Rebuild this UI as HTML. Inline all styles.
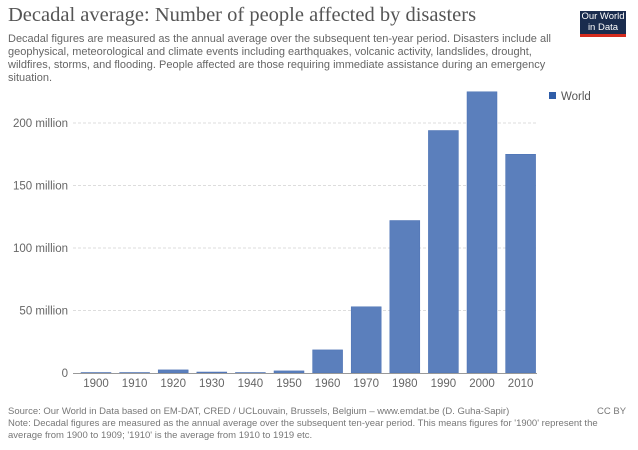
<!DOCTYPE html>
<html><head><meta charset="utf-8"><style>
body{margin:0;background:#fff;font-family:"Liberation Sans",sans-serif;}
#wrap{position:relative;width:638px;height:450px;overflow:hidden;}
h1{position:absolute;left:8px;top:4px;margin:0;font-family:"Liberation Serif",serif;font-weight:normal;font-size:20.5px;color:#555;}
.sub{position:absolute;left:8px;top:33px;width:560px;font-size:11px;line-height:13px;color:#666;}
.foot{position:absolute;left:8px;font-size:9.5px;color:#777;line-height:11.5px;}
#logo{position:absolute;left:580px;top:11px;width:46px;height:26px;background:#1a2c4e;border-bottom:3px solid #d42b1e;color:#fff;font-size:9.5px;line-height:10.5px;text-align:center;padding-top:1px;box-sizing:border-box;}
</style></head><body><div id="wrap">
<h1>Decadal average: Number of people affected by disasters</h1>
<div class="sub">Decadal figures are measured as the annual average over the subsequent ten-year period. Disasters include all geophysical, meteorological and climate events including earthquakes, volcanic activity, landslides, drought, wildfires, storms, and flooding. People affected are those requiring immediate assistance during an emergency situation.</div>
<div id="logo">Our World<br>in Data</div>
<svg id="chart" width="638" height="450" style="position:absolute;left:0;top:0"></svg>
<div class="foot" style="top:406px">Source: Our World in Data based on EM-DAT, CRED / UCLouvain, Brussels, Belgium – www.emdat.be (D. Guha-Sapir)</div>
<div class="foot" style="top:406px;left:597px">CC BY</div>
<div class="foot" style="top:418px;width:600px">Note: Decadal figures are measured as the annual average over the subsequent ten-year period. This means figures for '1900' represent the average from 1900 to 1909; '1910' is the average from 1910 to 1919 etc.</div>
</div>
<script>
const categories=["1900","1910","1920","1930","1940","1950","1960","1970","1980","1990","2000","2010"];
const values=[0.1,0.3,2.5,0.8,0.05,1.7,18.5,53,122,194,225,175];
const yTicks=[0,50,100,150,200];
const yTickLabels=["0","50 million","100 million","150 million","200 million"];
const svg=document.getElementById('chart');
const NS="http://www.w3.org/2000/svg";
const y0=373,pxPer=1.25,x0=96,step=38.6,bw=30;
const y=v=>y0-v*pxPer;
const x=i=>x0+i*step;
function mk(t,a){const e=document.createElementNS(NS,t);for(const k in a)e.setAttribute(k,a[k]);svg.appendChild(e);return e;}
yTicks.forEach((t,i)=>{
  if(t>0){const g=mk('line',{x1:73,x2:537,y1:y(t),y2:y(t),stroke:'#ddd','stroke-dasharray':'3,2'});
  
  }
  const l=mk('text',{x:68,y:y(t)+4,'text-anchor':'end','font-size':'11.5',fill:'#666'});
  l.textContent=yTickLabels[i];
  
  
});
categories.forEach((c,i)=>{
  const h=Math.max(values[i]*pxPer,0.5);
  const r=mk('rect',{x:x(i)-bw/2,y:y0-h,width:bw,height:h,fill:'#5b7fbc',stroke:'#4a70b3','stroke-width':'0.5'});
  
  
  const l=mk('text',{x:x(i),y:387,'text-anchor':'middle','font-size':'11.5',fill:'#666'});
  l.textContent=c;
  
  
});
const ax=mk('line',{x1:73,x2:537,y1:y0+0.5,y2:y0+0.5,stroke:'#999'});


const ls=mk('rect',{x:549,y:92,width:7,height:7,fill:'#2f5da8'});


const lt=mk('text',{x:561,y:100,'font-size':'11.5',fill:'#555'});
lt.textContent='World';


</script></body></html>
